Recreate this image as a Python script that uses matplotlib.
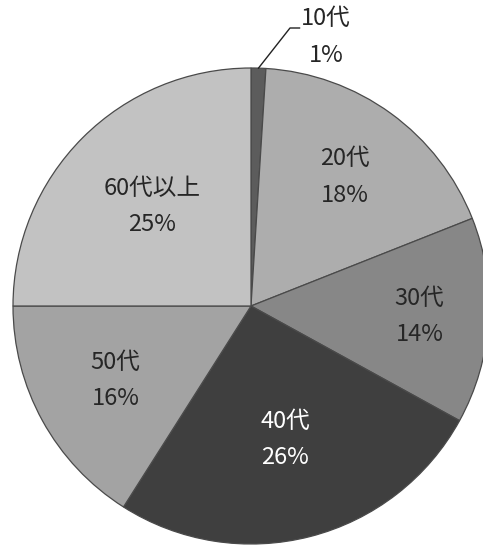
import numpy as np
import matplotlib
matplotlib.use("Agg")
import matplotlib.pyplot as plt

plt.rcParams["font.family"] = ["Noto Sans CJK JP", "DejaVu Sans"]

# data
ages = ["10代", "20代", "30代", "40代", "50代", "60代以上"]
shares = [1, 18, 14, 26, 16, 25]
colors = ["#5c5c5c", "#adadad", "#878787", "#3f3f3f", "#a3a3a3", "#c2c2c2"]
text_colors = ["#262626", "#262626", "#262626", "#ffffff", "#262626", "#262626"]
label_r = [None, 0.67, 0.71, 0.58, 0.65, 0.59]

W, H = 483, 546
CX, CY, R = 251, 306, 238   # pie centre / radius in pixels

fig = plt.figure(figsize=(W / 100, H / 100), dpi=100)
ax = fig.add_axes([0, 0, 1, 1])

wedges, _ = ax.pie(
    shares, colors=colors, startangle=90, counterclock=False, radius=1,
    wedgeprops=dict(edgecolor="#4a4a4a", linewidth=0.9),
)
ax.set_xlim(-CX / R, (W - CX) / R)
ax.set_ylim(-(H - CY) / R, CY / R)
ax.set_aspect("equal")
ax.axis("off")

FS = 17
LS = 1.75
for i, w in enumerate(wedges):
    mid = np.deg2rad((w.theta1 + w.theta2) / 2)
    txt = f"{ages[i]}\n{shares[i]}%"
    if label_r[i] is None:
        # small slice -> outside label with leader line
        x0, y0 = np.cos(mid), np.sin(mid)
        ex, ey = (290 - CX) / R, (CY - 28) / R
        ax.plot([x0, ex, ex + 0.04], [y0, ey, ey], color="#222222", lw=1)
        ax.text((326 - CX) / R, (CY - 37) / R, txt, ha="center", va="center",
                fontsize=FS, color="#262626", linespacing=LS)
    else:
        r = label_r[i]
        ax.text(r * np.cos(mid), r * np.sin(mid), txt, ha="center", va="center",
                fontsize=FS, color=text_colors[i], linespacing=LS)

fig.savefig("out.png", dpi=100, facecolor="white")
